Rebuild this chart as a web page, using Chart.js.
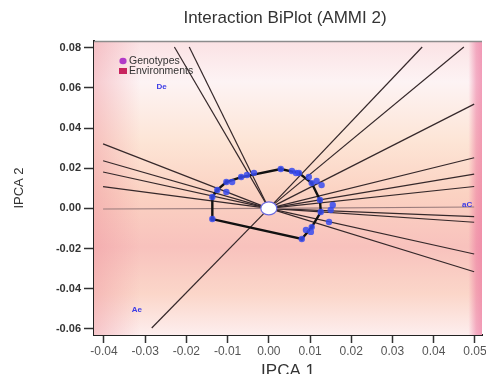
<!DOCTYPE html>
<html>
<head>
<meta charset="utf-8">
<script src="https://cdn.jsdelivr.net/npm/chart.js@4.4.1/dist/chart.umd.min.js"></script>
<style>
  html, body { margin: 0; padding: 0; background: #fff; }
  #wrap { width: 486px; height: 374px; }
</style>
</head>
<body>
<div id="wrap"><canvas id="biplot" width="486" height="374"></canvas></div>
<script>
// axis ticks
const xTicks = [-0.04, -0.03, -0.02, -0.01, 0.00, 0.01, 0.02, 0.03, 0.04, 0.05];
const yTicks = [-0.06, -0.04, -0.02, 0.00, 0.02, 0.04, 0.06, 0.08];

// genotypes on the polygon corners (in drawing order)
const hullX = [-0.0137, -0.0137, -0.0125, -0.0103, -0.0067, 0.0029, 0.0073, 0.0104, 0.0124, 0.0126, 0.0104, 0.0080];
const hullY = [-0.0053, 0.0057, 0.0092, 0.0131, 0.0156, 0.0196, 0.0176, 0.0126, 0.0042, -0.0018, -0.0093, -0.0152];

// other genotypes
const genoX = [-0.0089, -0.0103, -0.0053, -0.0036, 0.0056, 0.0066, 0.0097, 0.0116, 0.0128, 0.0155, 0.0150, 0.0146, 0.0102, 0.0090];
const genoY = [0.0131, 0.0082, 0.0166, 0.0177, 0.0186, 0.0176, 0.0156, 0.0136, 0.0116, 0.0017, -0.0008, -0.0068, -0.0117, -0.0107];

// environment labels
const envNames = ['De', 'Ae', 'aC'];
const envX = [-0.0260, -0.0320, 0.0481];
const envY = [0.0604, -0.0506, 0.0017];

// environment vectors from the origin (end points)
const rayX = [-0.0229, -0.0193, 0.0372, 0.0473,
  0.0498, 0.0498, 0.0498, 0.0498, 0.0498, 0.0498, 0.0498, 0.0498, 0.0498,
  -0.0402, -0.0402, -0.0402, -0.0402, -0.0402, -0.0284];
const rayY = [0.0803, 0.0803, 0.0803, 0.0803,
  0.0519, 0.0252, 0.0171, 0.0109, 0.0007, -0.0041, -0.0069, -0.0227, -0.0315,
  0.0321, 0.0237, 0.0181, 0.0108, -0.0003, -0.0595];

const legendLabels = ['Genotypes', 'Environments'];

const FONT = '"Liberation Sans", Arial, sans-serif';

const toPoints = (xs, ys) => xs.map((x, i) => ({ x: x, y: ys[i] }));

const datasets = [];

datasets.push({
  label: 'Genotypes',
  data: toPoints(hullX.concat(genoX), hullY.concat(genoY)),
  pointRadius: 3.2,
  pointBackgroundColor: 'rgba(55,75,240,0.85)',
  pointBorderWidth: 0,
  order: 0,
});

const hullPts = toPoints(hullX, hullY);
hullPts.push(hullPts[0]);
datasets.push({
  label: 'hull',
  data: hullPts,
  showLine: true,
  borderColor: '#111',
  borderWidth: 2.4,
  pointRadius: 2,
  pointBackgroundColor: '#111',
  pointBorderWidth: 0,
  tension: 0,
  order: 1,
});

rayX.forEach((ex, i) => {
  const flat = Math.abs(rayY[i]) < 0.002;
  datasets.push({
    label: 'ray' + i,
    data: [{ x: 0, y: 0 }, { x: ex, y: rayY[i] }],
    showLine: true,
    borderColor: flat ? '#9a7c7c' : '#35282a',
    borderWidth: flat ? 1.2 : 1.2,
    pointRadius: 0,
    order: 2,
  });
});

const decor = {
  id: 'decor',
  beforeDatasetsDraw(chart) {
    const { ctx, chartArea: a } = chart;
    ctx.save();
    let g = ctx.createLinearGradient(0, a.top, 0, a.bottom);
    g.addColorStop(0, '#fbe2e4');
    g.addColorStop(0.14, '#fdf3f4');
    g.addColorStop(0.34, '#fde5d6');
    g.addColorStop(0.52, '#fbd2c2');
    g.addColorStop(0.70, '#f8c2bd');
    g.addColorStop(0.86, '#fbd6c9');
    g.addColorStop(1, '#fdeeee');
    ctx.fillStyle = g;
    ctx.fillRect(a.left, a.top, a.width, a.height);
    g = ctx.createLinearGradient(a.left, 0, a.right, 0);
    g.addColorStop(0, 'rgba(238,150,160,0.45)');
    g.addColorStop(0.12, 'rgba(238,150,160,0)');
    g.addColorStop(0.965, 'rgba(236,120,160,0)');
    g.addColorStop(0.985, 'rgba(236,120,160,0.55)');
    g.addColorStop(1, 'rgba(236,120,160,0.7)');
    ctx.fillStyle = g;
    ctx.fillRect(a.left, a.top, a.width, a.height);
    // top frame line
    ctx.strokeStyle = '#8c8c8c';
    ctx.lineWidth = 1.5;
    ctx.beginPath();
    ctx.moveTo(a.left, a.top + 0.5);
    ctx.lineTo(a.right, a.top + 0.5);
    ctx.stroke();
    ctx.restore();
  },
  afterDatasetsDraw(chart) {
    const { ctx, chartArea: a, scales: { x, y } } = chart;
    ctx.save();
    // origin marker
    ctx.beginPath();
    ctx.ellipse(x.getPixelForValue(0), y.getPixelForValue(0), 8, 6.5, 0, 0, Math.PI * 2);
    ctx.fillStyle = '#ffffff';
    ctx.fill();
    ctx.strokeStyle = '#6b6be0';
    ctx.lineWidth = 1.2;
    ctx.stroke();
    // environment labels
    ctx.fillStyle = '#3a3ae6';
    ctx.font = 'bold 8px ' + FONT;
    ctx.textAlign = 'center';
    ctx.textBaseline = 'middle';
    envNames.forEach((n, i) => {
      ctx.fillText(n, x.getPixelForValue(envX[i]), y.getPixelForValue(envY[i]));
    });
    // legend
    const lx = a.left + 29, ly = a.top + 20;
    ctx.fillStyle = '#b23ac8';
    ctx.beginPath();
    ctx.ellipse(lx, ly, 3.6, 3.2, 0, 0, Math.PI * 2);
    ctx.fill();
    ctx.fillStyle = '#c8245e';
    ctx.fillRect(lx - 4, ly + 7, 8, 6);
    ctx.fillStyle = '#333';
    ctx.font = '10.5px ' + FONT;
    ctx.textAlign = 'left';
    ctx.fillText(legendLabels[0], lx + 6, ly + 0.5);
    ctx.fillText(legendLabels[1], lx + 6, ly + 10.5);
    ctx.restore();
  },
  afterDraw(chart) {
    const { ctx, chartArea: a } = chart;
    ctx.save();
    ctx.fillStyle = '#333';
    ctx.font = '17px ' + FONT;
    ctx.textAlign = 'center';
    ctx.textBaseline = 'middle';
    ctx.fillText('Interaction BiPlot (AMMI 2)', (a.left + a.right) / 2 - 3, 18);
    ctx.restore();
  },
};

new Chart(document.getElementById('biplot'), {
  type: 'scatter',
  data: { datasets: datasets },
  options: {
    responsive: false,
    animation: false,
    layout: { padding: { top: 41, right: 2, bottom: 0, left: 0 } },
    plugins: {
      legend: { display: false },
      tooltip: { enabled: false },
    },
    scales: {
      x: {
        type: 'linear',
        min: -0.0424,
        max: 0.0517,
        afterBuildTicks: (s) => { s.ticks = xTicks.map((v) => ({ value: v })); },
        afterFit: (s) => { s.height = 39; s.paddingLeft = 0; s.paddingRight = 0; },
        ticks: {
          autoSkip: false,
          maxRotation: 0,
          padding: 1,
          color: '#555',
          font: { family: FONT, size: 12 },
          callback: (v) => v.toFixed(2),
        },
        grid: { drawOnChartArea: false, tickLength: 8, tickColor: '#333', tickWidth: 1.5 },
        border: { color: '#222', width: 2 },
        title: {
          display: true,
          text: 'IPCA 1',
          color: '#333',
          font: { family: FONT, size: 17, lineHeight: 0.3 },
          padding: 0,
        },
      },
      y: {
        type: 'linear',
        min: -0.063,
        max: 0.0833,
        afterBuildTicks: (s) => { s.ticks = yTicks.map((v) => ({ value: v })); },
        afterFit: (s) => { s.width = 94; s.paddingTop = 0; s.paddingBottom = 0; },
        ticks: {
          autoSkip: false,
          padding: 3,
          color: '#333',
          font: { family: FONT, size: 11, weight: 'bold' },
          callback: (v) => v.toFixed(2),
        },
        grid: { drawOnChartArea: false, tickLength: 10, tickColor: '#333', tickWidth: 1.5 },
        border: { color: '#222', width: 2 },
        title: {
          display: true,
          text: 'IPCA 2',
          color: '#333',
          font: { family: FONT, size: 13 },
          padding: { top: 12, bottom: 0 },
        },
      },
    },
  },
  plugins: [decor],
});
</script>
</body>
</html>
